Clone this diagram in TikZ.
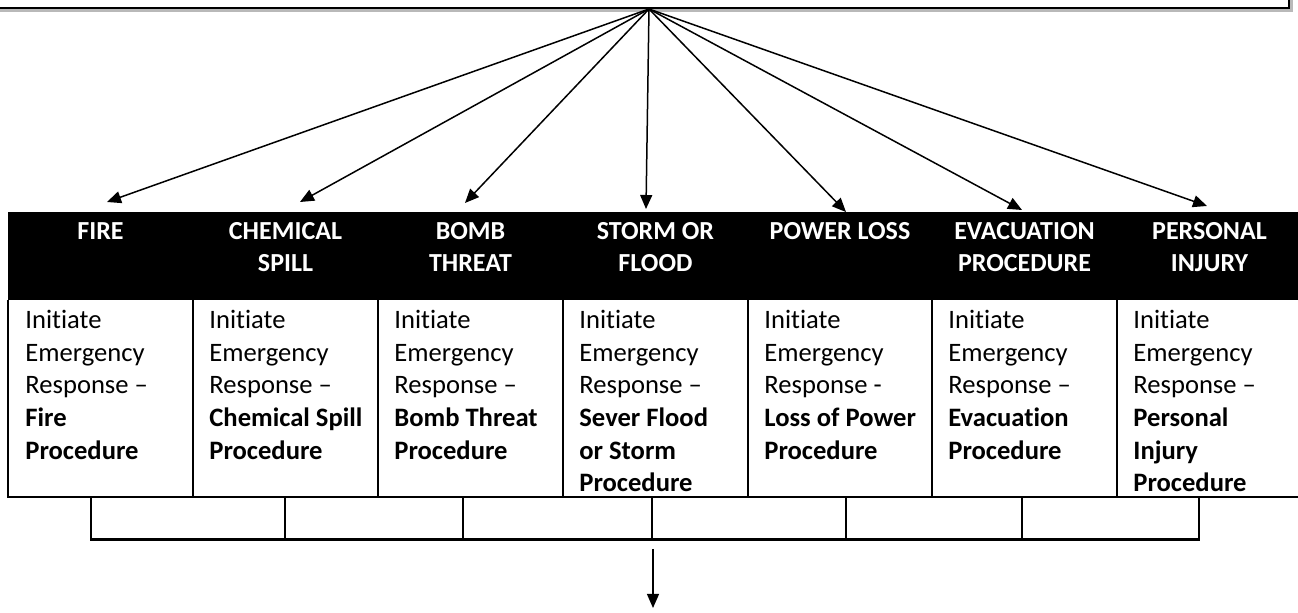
\documentclass[tikz,border=0pt]{standalone}
\usepackage{fontspec}
\setmainfont{Carlito}[Ligatures=NoCommon]
\usetikzlibrary{arrows.meta}
\begin{document}
\begin{tikzpicture}[x=0.5pt,y=-0.5pt,
  headtxt/.style={font=\fontsize{13}{16}\selectfont\bfseries, text=white,
    align=center, inner sep=0pt, anchor=north},
  bodytxt/.style={font=\fontsize{13.3}{16.3}\selectfont, align=left,
    inner sep=0pt, anchor=north west},
  fan/.style={line width=0.75pt, -{Triangle[length=7pt,width=6pt]}},
  rule/.style={line width=0.9pt},
  heavyrule/.style={line width=1.7pt},
]
\useasboundingbox (0,0) rectangle (1298,613);
\clip (0,0) rectangle (1298,613);

% banner box along the top, with its drop shadow
\fill[gray!55] (-17,-57) rectangle (1293,12);
\node (top) [draw, fill=white, line width=1pt, inner sep=0pt,
  minimum width=655pt, minimum height=35pt, anchor=south east] at (1290,9) {};
\coordinate (src) at (649,9);

% header band
\fill (8,212) rectangle (1310,300);

% body of the table
\draw[rule] (8,300) -- (8,497) -- (1310,497);
\foreach \x in {193,378,563,748,932,1117}
  \draw[rule] (\x,300) -- (\x,497);

% strip below the table
\foreach \x in {91,285,463,652,846,1022,1199}
  \draw[rule] (\x,497) -- (\x,538);
\draw[heavyrule] (90,539.5) -- (1200,539.5);

% header labels
\node[headtxt] (h1) at (100.5,222) {FIRE};
\node[headtxt] (h2) at (285.5,222) {CHEMICAL\\SPILL};
\node[headtxt] (h3) at (470.5,222) {BOMB\\THREAT};
\node[headtxt] (h4) at (655.5,222) {STORM OR\\FLOOD};
\node[headtxt] (h5) at (840,222) {POWER LOSS};
\node[headtxt] (h6) at (1024.5,222) {EVACUATION\\PROCEDURE};
\node[headtxt] (h7) at (1209.5,222) {PERSONAL\\INJURY};

% procedure cells
\node[bodytxt] (b1) at (25,310) {Initiate\\Emergency\\Response –\\\textbf{Fire}\\\textbf{Procedure}};
\node[bodytxt] (b2) at (209,310) {Initiate\\Emergency\\Response –\\\textbf{Chemical Spill}\\\textbf{Procedure}};
\node[bodytxt] (b3) at (394,310) {Initiate\\Emergency\\Response –\\\textbf{Bomb Threat}\\\textbf{Procedure}};
\node[bodytxt] (b4) at (579,310) {Initiate\\Emergency\\Response –\\\textbf{Sever Flood}\\\textbf{or Storm}\\\textbf{Procedure}};
\node[bodytxt] (b5) at (764,310) {Initiate\\Emergency\\Response -\\\textbf{Loss of Power}\\\textbf{Procedure}};
\node[bodytxt] (b6) at (948,310) {Initiate\\Emergency\\Response –\\\textbf{Evacuation}\\\textbf{Procedure}};
\node[bodytxt] (b7) at (1133,310) {Initiate\\Emergency\\Response –\\\textbf{Personal}\\\textbf{Injury}\\\textbf{Procedure}};

% arrow ends above each header
\coordinate (t1) at (107,202);
\coordinate (t2) at (300,202);
\coordinate (t3) at (465,203);
\coordinate (t4) at (646,209);
\coordinate (t5) at (846,212);
\coordinate (t6) at (1022,210);
\coordinate (t7) at (1207,206);
\foreach \t in {t1,t2,t3,t4,t5,t6,t7}
  \draw[fan] (src) -- (\t);

% arrow leaving the strip
\coordinate (d0) at (653,549);
\coordinate (d1) at (653,608);
\draw[line width=0.6pt, -{Triangle[length=7pt,width=6pt]}] (d0) -- (d1);
\end{tikzpicture}
\end{document}
